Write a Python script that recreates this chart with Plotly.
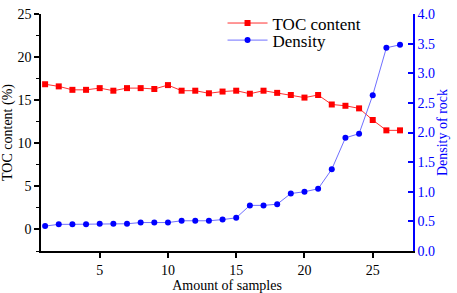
import plotly.graph_objects as go

samples = list(range(1, 28))
toc = [16.85, 16.6, 16.2, 16.2, 16.4, 16.1, 16.4, 16.4, 16.3, 16.75,
       16.1, 16.1, 15.8, 16.0, 16.1, 15.75, 16.1, 15.85, 15.6, 15.3,
       15.6, 14.5, 14.35, 14.05, 12.7, 11.5, 11.5]
density = [0.42, 0.45, 0.45, 0.45, 0.46, 0.46, 0.46, 0.48, 0.48, 0.48,
           0.51, 0.51, 0.51, 0.53, 0.56, 0.77, 0.77, 0.79, 0.97, 1.0,
           1.05, 1.38, 1.91, 1.98, 2.63, 3.43, 3.48]

FONT = "Liberation Serif"
RED = "#ff0000"
BLUE = "#0000ff"

fig = go.Figure()
fig.add_trace(go.Scatter(
    x=samples, y=toc, name="TOC content", mode="lines+markers",
    line=dict(color="#ff3030", width=1),
    marker=dict(symbol="square", size=6, color=RED),
    yaxis="y", legend="legend"))
fig.add_trace(go.Scatter(
    x=samples, y=density, name="Density", mode="lines+markers",
    line=dict(color="#6f6fff", width=1),
    marker=dict(symbol="circle", size=6, color=BLUE),
    yaxis="y2", legend="legend2"))

leg_common = dict(xanchor="left", yanchor="middle", bgcolor="rgba(0,0,0,0)",
                  font=dict(size=17, family=FONT, color="black"), itemwidth=40)

fig.update_layout(
    width=457, height=293,
    margin=dict(l=40, r=44, t=5, b=38),
    paper_bgcolor="white", plot_bgcolor="white",
    font=dict(family=FONT, size=14, color="black"),
    showlegend=True,
    legend=dict(x=0.488, y=0.96, **leg_common),
    legend2=dict(x=0.488, y=0.888, **leg_common),
    xaxis=dict(range=[0.7, 27.95], tickvals=[5, 10, 15, 20, 25],
               showgrid=False, zeroline=False, showline=True,
               linecolor="black", linewidth=1.5,
               ticks="outside", ticklen=5, tickwidth=1.5, tickcolor="black",
               tickfont=dict(size=14, family=FONT),
               title=dict(text="Amount of samples", font=dict(size=14, family=FONT),
                          standoff=1)),
    yaxis=dict(range=[-2.5, 25], tickvals=[0, 5, 10, 15, 20, 25],
               showgrid=False, zeroline=False, showline=True,
               linecolor="black", linewidth=1.5,
               ticks="outside", ticklen=5, tickwidth=1.5, tickcolor="black",
               minor=dict(tickvals=[-2.5, 2.5, 7.5, 12.5, 17.5, 22.5],
                          ticks="outside", ticklen=3, tickwidth=1, tickcolor="black"),
               tickfont=dict(size=14, family=FONT),
               title=dict(text="TOC content (%)", font=dict(size=14, family=FONT),
                          standoff=3)),
    yaxis2=dict(range=[0, 4], overlaying="y", side="right",
                tickvals=[0, 0.5, 1.0, 1.5, 2.0, 2.5, 3.0, 3.5, 4.0],
                ticktext=["0.0", "0.5", "1.0", "1.5", "2.0", "2.5", "3.0", "3.5", "4.0"],
                showgrid=False, zeroline=False, showline=True,
                linecolor=BLUE, linewidth=1.5,
                ticks="inside", ticklen=5, tickwidth=1.5, tickcolor=BLUE,
                tickfont=dict(size=14, family=FONT, color=BLUE),
                title=dict(text="Density of rock", font=dict(size=14, family=FONT, color=BLUE),
                           standoff=3)),
)

fig.write_html("out.html", config={"displayModeBar": False},
               post_script="document.body.style.margin='0';document.body.style.overflow='hidden';")
